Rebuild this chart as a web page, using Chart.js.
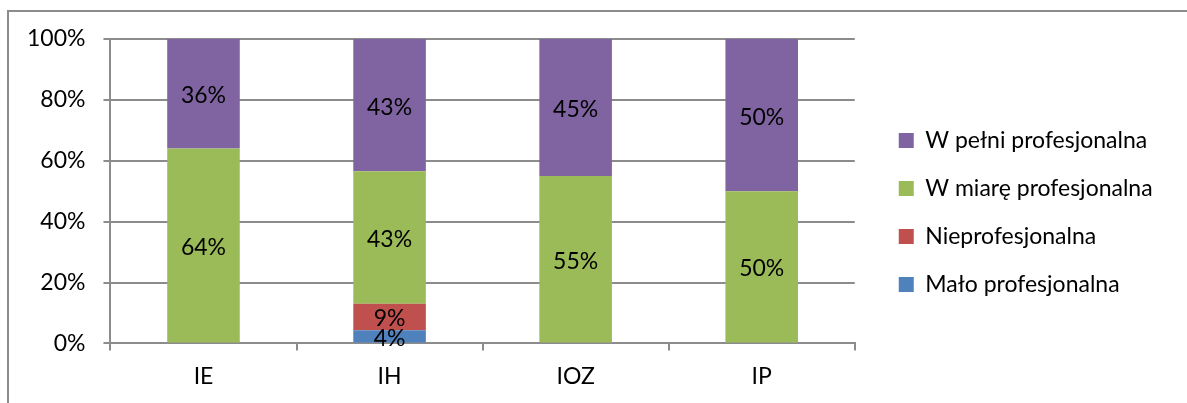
<!DOCTYPE html>
<html>
<head>
<meta charset="utf-8">
<script src="https://cdn.jsdelivr.net/npm/chart.js@4.4.1/dist/chart.umd.min.js"></script>
<style>
  html, body { margin: 0; padding: 0; background: #fff; }
  #wrap { position: relative; width: 1187px; height: 403px; }
  #frame {
    position: absolute; left: 7px; top: 10px; right: -5px; bottom: -5px;
    border-left: 2px solid #8c8c8c; border-top: 2px solid #8c8c8c;
  }
  canvas { position: absolute; left: 0; top: 0; }
</style>
</head>
<body>
<div id="wrap">
  <div id="frame"></div>
  <canvas id="chart" width="1187" height="403"></canvas>
</div>
<script>
const categories = ["IE", "IH", "IOZ", "IP"];
const seriesNames = ["Mało profesjonalna", "Nieprofesjonalna", "W miarę profesjonalna", "W pełni profesjonalna"];
const maloValues = [0, 4.35, 0, 0];
const nieValues = [0, 8.7, 0, 0];
const wMiareValues = [64, 43.48, 55, 50];
const wPelniValues = [36, 43.48, 45, 50];
const yTicks = [0, 20, 40, 60, 80, 100];

const colors = ["#4f81bd", "#c0504d", "#9bbb59", "#8064a2"];
const fontFamily = "Lato, 'Open Sans', sans-serif";
const fontSize = 23;

// etykiety z wartościami na środku segmentów
const valueLabels = {
    id: "valueLabels",
    afterDatasetsDraw(chart) {
        const ctx = chart.ctx;
        ctx.save();
        ctx.font = fontSize + "px " + fontFamily;
        ctx.fillStyle = "#000";
        ctx.textAlign = "center";
        ctx.textBaseline = "middle";
        chart.data.datasets.forEach((ds, i) => {
            const meta = chart.getDatasetMeta(i);
            meta.data.forEach((bar, j) => {
                const v = ds.data[j];
                if (!v) return;
                ctx.fillText(Math.round(v) + "%", bar.x, (bar.y + bar.base) / 2 + 2);
            });
        });
        ctx.restore();
    }
};

// odstęp między wykresem a legendą + lekkie przesunięcie legendy w górę
const legendGap = 19;
const legendShiftUp = 8;
const legendSpacing = {
    id: "legendSpacing",
    afterInit(chart) {
        const legend = chart.legend;
        if (!legend) return;
        const fit = legend.fit.bind(legend);
        legend.fit = function () {
            fit();
            this.width += legendGap;
        };
    },
    afterLayout(chart) {
        const legend = chart.legend;
        if (!legend) return;
        legend.left += legendGap;
        legend.top -= legendShiftUp;
        legend.bottom -= legendShiftUp;
    }
};

new Chart(document.getElementById("chart").getContext("2d"), {
    type: "bar",
    data: {
        labels: categories,
        datasets: [
            { label: seriesNames[0], data: maloValues, backgroundColor: colors[0] },
            { label: seriesNames[1], data: nieValues, backgroundColor: colors[1] },
            { label: seriesNames[2], data: wMiareValues, backgroundColor: colors[2] },
            { label: seriesNames[3], data: wPelniValues, backgroundColor: colors[3] }
        ]
    },
    options: {
        responsive: false,
        animation: false,
        layout: { padding: { top: 39, left: 9, right: 25, bottom: 1 } },
        datasets: {
            bar: { categoryPercentage: 1, barPercentage: 0.39 }
        },
        plugins: {
            tooltip: { enabled: false },
            legend: {
                position: "right",
                reverse: true,
                labels: {
                    boxWidth: 15,
                    boxHeight: 15,
                    padding: 25,
                    color: "#000",
                    font: { family: fontFamily, size: fontSize }
                }
            }
        },
        scales: {
            x: {
                stacked: true,
                border: { display: true, color: "#8c8c8c", width: 2 },
                grid: {
                    offset: true,
                    drawOnChartArea: false,
                    drawTicks: true,
                    tickLength: 7,
                    color: "#8c8c8c",
                    lineWidth: 2
                },
                ticks: {
                    color: "#000",
                    padding: 12,
                    font: { family: fontFamily, size: fontSize }
                }
            },
            y: {
                stacked: true,
                min: 0,
                max: 100,
                afterBuildTicks(axis) {
                    axis.ticks = yTicks.map(v => ({ value: v }));
                },
                border: { display: true, color: "#8c8c8c", width: 2 },
                grid: {
                    color: "#8c8c8c",
                    lineWidth: 2,
                    tickLength: 7
                },
                ticks: {
                    color: "#000",
                    padding: 18,
                    font: { family: fontFamily, size: fontSize },
                    callback: v => v + "%"
                }
            }
        }
    },
    plugins: [valueLabels, legendSpacing]
});
</script>
</body>
</html>
